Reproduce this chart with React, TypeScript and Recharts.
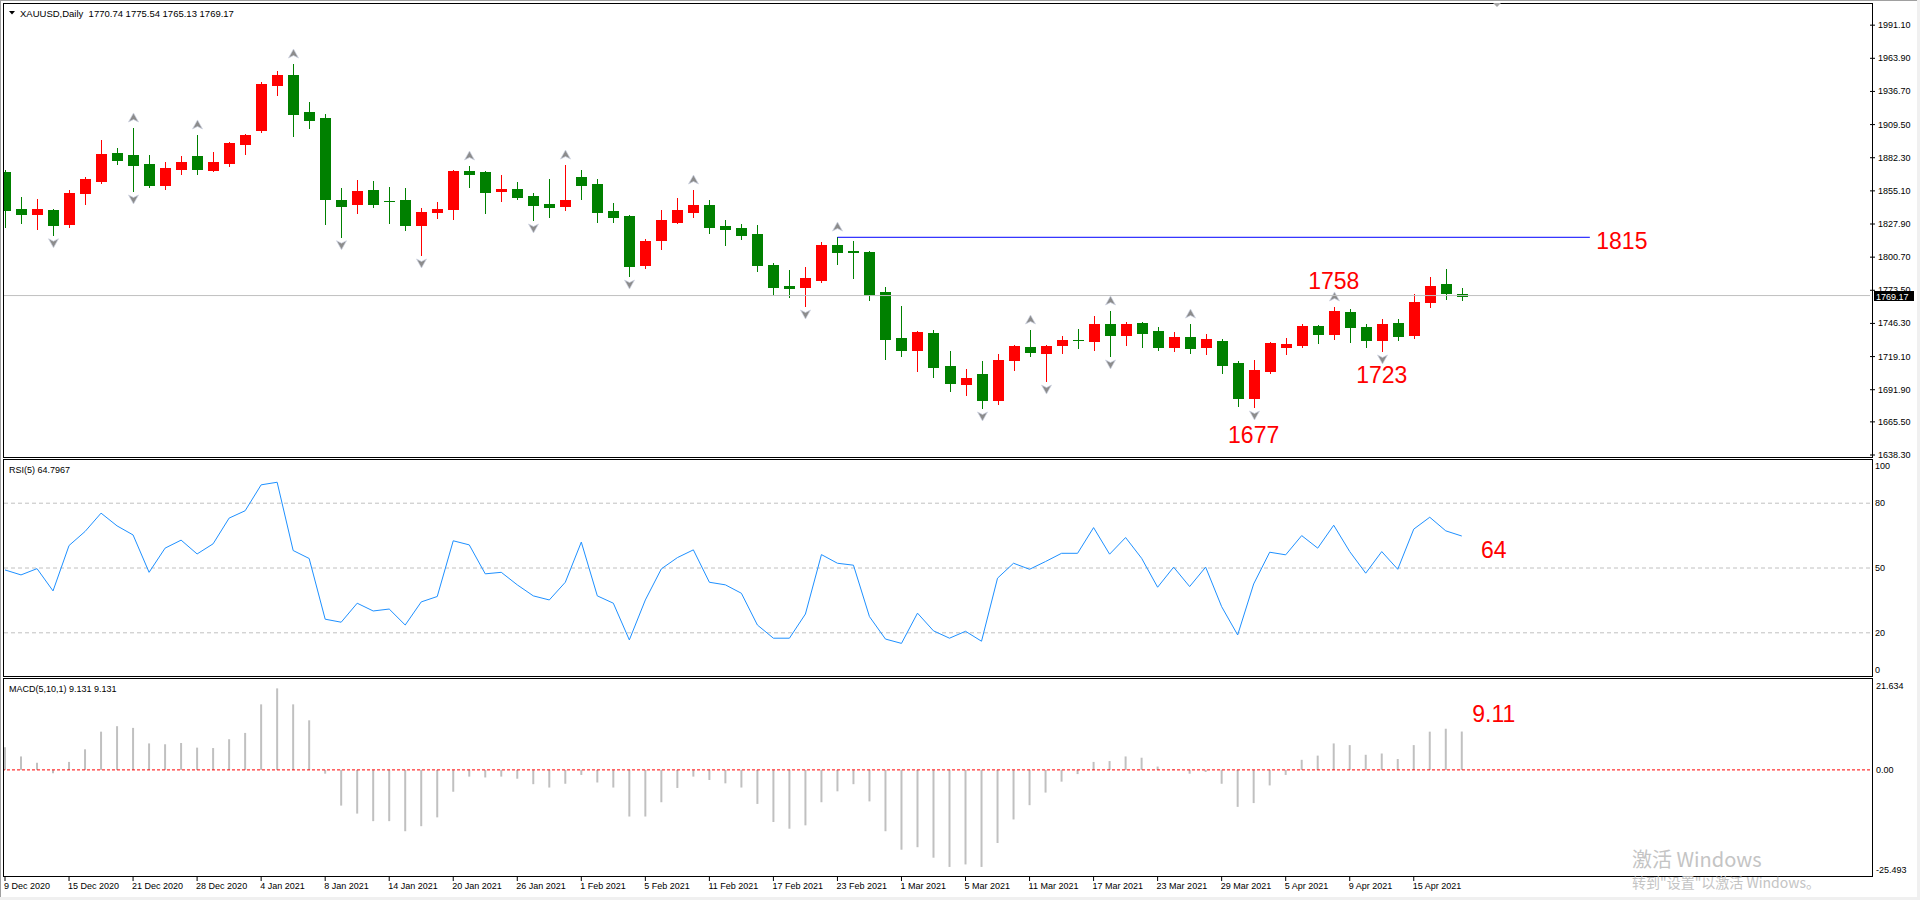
import React from "react";
import {
  ComposedChart, Bar, Line, XAxis, YAxis, ReferenceLine, ReferenceDot,
} from "recharts";

const FONT = "'Liberation Sans', Arial, sans-serif";
const RED = "#FF0000";
const GREEN = "#008000";

const DATES = [
  "9 Dec 2020", "10 Dec 2020", "11 Dec 2020", "14 Dec 2020", "15 Dec 2020", "16 Dec 2020", "17 Dec 2020", "18 Dec 2020",
  "21 Dec 2020", "22 Dec 2020", "23 Dec 2020", "24 Dec 2020", "28 Dec 2020", "29 Dec 2020", "30 Dec 2020", "31 Dec 2020",
  "4 Jan 2021", "5 Jan 2021", "6 Jan 2021", "7 Jan 2021", "8 Jan 2021", "11 Jan 2021", "12 Jan 2021", "13 Jan 2021",
  "14 Jan 2021", "15 Jan 2021", "18 Jan 2021", "19 Jan 2021", "20 Jan 2021", "21 Jan 2021", "22 Jan 2021", "25 Jan 2021",
  "26 Jan 2021", "27 Jan 2021", "28 Jan 2021", "29 Jan 2021", "1 Feb 2021", "2 Feb 2021", "3 Feb 2021", "4 Feb 2021",
  "5 Feb 2021", "8 Feb 2021", "9 Feb 2021", "10 Feb 2021", "11 Feb 2021", "12 Feb 2021", "15 Feb 2021", "16 Feb 2021",
  "17 Feb 2021", "18 Feb 2021", "19 Feb 2021", "22 Feb 2021", "23 Feb 2021", "24 Feb 2021", "25 Feb 2021", "26 Feb 2021",
  "1 Mar 2021", "2 Mar 2021", "3 Mar 2021", "4 Mar 2021", "5 Mar 2021", "8 Mar 2021", "9 Mar 2021", "10 Mar 2021",
  "11 Mar 2021", "12 Mar 2021", "15 Mar 2021", "16 Mar 2021", "17 Mar 2021", "18 Mar 2021", "19 Mar 2021", "22 Mar 2021",
  "23 Mar 2021", "24 Mar 2021", "25 Mar 2021", "26 Mar 2021", "29 Mar 2021", "30 Mar 2021", "31 Mar 2021", "1 Apr 2021",
  "5 Apr 2021", "6 Apr 2021", "7 Apr 2021", "8 Apr 2021", "9 Apr 2021", "12 Apr 2021", "13 Apr 2021", "14 Apr 2021",
  "15 Apr 2021", "16 Apr 2021", "19 Apr 2021", "20 Apr 2021",
];

const OPEN = [
  1870.6, 1840.2, 1836.4, 1839.4, 1828.1, 1853.3, 1863.2, 1886.2, 1884.5, 1877.1,
  1859.9, 1873.0, 1883.7, 1872.2, 1878.0, 1893.6, 1905.1, 1942.0, 1950.2, 1919.8,
  1914.9, 1847.6, 1844.3, 1855.8, 1847.0, 1847.6, 1827.3, 1837.8, 1840.2, 1871.4,
  1870.6, 1855.0, 1856.6, 1850.9, 1844.3, 1842.7, 1866.5, 1860.7, 1838.6, 1834.5,
  1794.3, 1814.8, 1829.5, 1837.8, 1843.5, 1826.3, 1824.6, 1819.7, 1794.3, 1777.0,
  1776.2, 1781.9, 1810.7, 1805.7, 1804.9, 1772.1, 1734.3, 1724.5, 1738.4, 1711.4,
  1696.6, 1704.8, 1683.5, 1716.3, 1727.0, 1722.0, 1728.6, 1733.0, 1731.9, 1745.8,
  1736.8, 1746.6, 1740.1, 1727.0, 1735.2, 1727.0, 1731.9, 1713.8, 1685.1, 1707.3,
  1727.0, 1728.6, 1744.2, 1737.6, 1755.7, 1743.4, 1732.7, 1746.6, 1736.8, 1763.9,
  1778.7, 1770.74,
];
const HIGH = [
  1872.2, 1850.1, 1848.4, 1840.0, 1855.8, 1866.7, 1896.8, 1890.3, 1906.7, 1884.5,
  1878.8, 1883.7, 1901.0, 1887.0, 1895.2, 1901.6, 1944.5, 1953.5, 1959.2, 1928.0,
  1918.2, 1857.4, 1864.0, 1863.2, 1858.3, 1857.4, 1841.0, 1846.0, 1872.2, 1875.5,
  1871.4, 1868.1, 1862.4, 1853.3, 1864.8, 1876.3, 1872.2, 1864.8, 1845.1, 1835.3,
  1815.6, 1839.4, 1849.2, 1855.8, 1847.6, 1831.2, 1827.9, 1827.1, 1795.9, 1790.1,
  1792.6, 1813.1, 1817.2, 1814.0, 1805.5, 1776.2, 1760.6, 1740.1, 1740.9, 1723.7,
  1708.9, 1715.5, 1721.2, 1728.5, 1740.9, 1728.6, 1736.0, 1741.7, 1752.4, 1756.5,
  1747.5, 1747.5, 1743.4, 1739.3, 1745.8, 1737.6, 1733.5, 1715.5, 1716.3, 1731.0,
  1734.3, 1745.8, 1745.0, 1759.8, 1758.1, 1745.8, 1749.9, 1749.9, 1770.4, 1784.4,
  1791.0, 1775.54,
];
const LOW = [
  1825.7, 1829.0, 1824.0, 1819.1, 1825.7, 1844.6, 1861.6, 1877.1, 1855.0, 1858.3,
  1856.6, 1868.9, 1868.9, 1871.4, 1875.5, 1885.4, 1903.4, 1933.8, 1900.1, 1906.7,
  1827.9, 1817.5, 1836.9, 1841.9, 1829.0, 1823.0, 1802.5, 1832.8, 1832.0, 1858.3,
  1836.9, 1846.8, 1848.4, 1831.2, 1833.6, 1839.4, 1848.4, 1829.5, 1829.5, 1785.2,
  1791.8, 1807.4, 1828.7, 1833.6, 1820.5, 1810.7, 1815.6, 1789.3, 1769.6, 1768.0,
  1760.6, 1780.3, 1795.1, 1783.6, 1765.5, 1717.1, 1719.6, 1707.3, 1702.3, 1690.8,
  1687.6, 1676.9, 1680.2, 1708.1, 1719.6, 1699.0, 1722.0, 1726.1, 1724.5, 1719.6,
  1728.6, 1727.0, 1724.5, 1723.7, 1722.0, 1721.2, 1705.6, 1678.5, 1677.7, 1705.6,
  1721.2, 1727.0, 1730.2, 1733.5, 1731.0, 1727.0, 1723.7, 1732.7, 1734.3, 1759.8,
  1766.4, 1765.13,
];
const CLOSE = [
  1839.4, 1836.4, 1840.2, 1827.3, 1853.3, 1864.8, 1885.4, 1880.4, 1876.3, 1859.9,
  1873.9, 1878.8, 1873.0, 1878.8, 1894.4, 1901.0, 1942.8, 1950.2, 1918.2, 1913.3,
  1848.4, 1842.7, 1855.0, 1844.3, 1846.6, 1827.3, 1837.8, 1840.2, 1871.4, 1868.9,
  1854.2, 1856.6, 1850.1, 1843.5, 1842.1, 1847.6, 1859.9, 1837.8, 1833.6, 1793.4,
  1814.0, 1831.2, 1839.4, 1843.5, 1825.4, 1823.8, 1818.9, 1794.3, 1776.2, 1775.4,
  1783.6, 1810.7, 1804.9, 1805.0, 1769.6, 1733.5, 1724.5, 1739.3, 1710.5, 1697.4,
  1701.5, 1683.5, 1716.3, 1727.8, 1722.8, 1727.8, 1732.7, 1732.5, 1745.8, 1736.8,
  1745.8, 1738.4, 1727.0, 1735.2, 1726.1, 1733.5, 1712.2, 1685.1, 1708.1, 1730.2,
  1729.4, 1744.2, 1737.6, 1756.5, 1743.4, 1732.7, 1745.8, 1736.0, 1763.9, 1777.0,
  1771.3, 1769.17,
];

const RSI = [
  49.1, 46.8, 49.7, 39.4, 60.4, 66.9, 75.4, 69.5, 65.3, 48.0,
  59.2, 62.9, 56.5, 61.2, 73.1, 76.5, 88.5, 89.7, 58.1, 54.4,
  26.3, 24.9, 33.7, 30.1, 31.0, 23.6, 34.3, 36.8, 62.6, 60.7,
  47.3, 48.0, 42.2, 37.1, 35.2, 43.4, 62.0, 37.1, 33.7, 16.7,
  35.2, 49.6, 54.8, 58.4, 43.4, 42.2, 38.3, 23.6, 17.5, 17.5,
  28.7, 56.2, 52.2, 51.3, 27.5, 17.1, 15.1, 29.1, 20.9, 17.5,
  20.7, 16.1, 45.3, 52.2, 49.4, 53.0, 56.8, 56.8, 68.7, 56.4,
  64.1, 54.5, 41.1, 50.4, 41.4, 50.4, 32.1, 19.0, 42.6, 57.3,
  56.1, 65.0, 59.2, 69.8, 57.6, 47.6, 57.6, 49.4, 68.0, 73.5,
  67.2, 64.7967,
];

const MACD = [
  5.4, 3.2, 1.7, -0.8, 1.9, 4.9, 9.1, 10.4, 10.0, 6.3,
  6.1, 6.4, 5.3, 5.2, 7.3, 8.8, 15.6, 19.4, 15.6, 11.8,
  -0.9, -8.5, -10.4, -12.2, -12.2, -14.6, -13.4, -11.3, -5.2, -1.6,
  -1.8, -1.6, -2.1, -3.4, -4.2, -3.3, -1.2, -3.0, -4.2, -11.1,
  -11.1, -7.7, -4.3, -1.6, -2.4, -3.2, -4.2, -8.1, -12.4, -14.0,
  -13.2, -7.7, -5.1, -3.4, -7.5, -14.6, -19.0, -18.4, -20.9, -23.1,
  -22.5, -23.1, -17.4, -11.8, -8.4, -5.4, -2.8, -1.0, 1.9, 2.1,
  3.2, 2.9, 0.8, 0.2, -0.9, -0.5, -3.3, -8.8, -7.9, -3.7,
  -1.2, 2.4, 3.4, 6.3, 5.9, 3.6, 3.9, 2.6, 5.9, 9.1,
  9.8, 9.131,
];

const FRACTAL_UP = [8, 12, 18, 29, 35, 43, 52, 64, 69, 74, 83];
const FRACTAL_DOWN = [3, 8, 21, 26, 33, 39, 50, 61, 65, 69, 78, 86];

const PRICE_TICKS = [1638.3, 1665.5, 1691.9, 1719.1, 1746.3, 1773.5, 1800.7, 1827.9, 1855.1, 1882.3, 1909.5, 1936.7, 1963.9, 1991.1];
const RSI_TICKS = [0, 20, 50, 80, 100];
const RSI_LEVELS = [20, 50, 80];
const MACD_TICKS = [-25.493, 0, 21.634];
const DATE_TICKS = DATES.filter((_, i) => i % 4 === 0);

const PAD_SLOTS = 25; // empty space right of the last bar (chart shift)
const RESIST = 1817;

const LAST_CLOSE = CLOSE[CLOSE.length - 1];
const LAST_RSI = RSI[RSI.length - 1];
const LAST_MACD = MACD[MACD.length - 1];

const rows: any[] = [
  ...DATES.map((date, i) => ({
    date,
    o: OPEN[i], h: HIGH[i], l: LOW[i], c: CLOSE[i],
    rsi: RSI[i], macd: MACD[i],
    up: FRACTAL_UP.includes(i), down: FRACTAL_DOWN.includes(i),
  })),
  ...Array.from({ length: PAD_SLOTS }, (_, k) => ({ date: `p${k}` })),
];

const CHART_W = 1923;
const AXIS_W = 50;

const candleRange = (d: any) => (d.h == null ? null : [d.l, d.h]);

const upArrow = (x: number, y: number) => `M${x},${y - 5} L${x + 5},${y + 4} L${x},${y + 1.5} L${x - 5},${y + 4} Z`;
const downArrow = (x: number, y: number) => `M${x},${y + 5} L${x + 5},${y - 4} L${x},${y - 1.5} L${x - 5},${y - 4} Z`;

const Candle = (props: any) => {
  const { x, y, width, height, payload } = props;
  if (!payload || payload.h == null || !isFinite(y) || !isFinite(height)) return <g />;
  const { o, h, l, c } = payload;
  const top = Math.min(y, y + height);
  const bottom = Math.max(y, y + height);
  const k = (bottom - top) / (h - l);
  const yOf = (v: number) => top + (h - v) * k;
  const cx = Math.round(x + width / 2 - 0.5);
  const color = c >= o ? RED : GREEN;
  const bTop = Math.round(yOf(Math.max(o, c)));
  const bBot = Math.round(yOf(Math.min(o, c)));
  return (
    <g>
      <line x1={cx + 0.5} x2={cx + 0.5} y1={Math.round(top)} y2={Math.round(bottom) + 1} stroke={color} shapeRendering="crispEdges" />
      <rect x={cx - 5} y={bTop} width={11} height={bBot - bTop + 1} fill={color} shapeRendering="crispEdges" />
      {payload.up && <path d={upArrow(cx + 0.5, top - 10)} fill="#8c8c8c" stroke="#cdd3e2" strokeWidth={0.7} />}
      {payload.down && <path d={downArrow(cx + 0.5, bottom + 8)} fill="#8c8c8c" stroke="#cdd3e2" strokeWidth={0.7} />}
    </g>
  );
};

const yTick = (fmt: (v: number) => string, h: number, pad: number) => (p: any) => {
  const y = Math.min(Math.max(p.y, pad), h - pad);
  return (
    <text x={p.x} y={y} dy={3} textAnchor="start" fontSize={9} fontFamily={FONT} fill="#000">
      {fmt(p.payload.value)}
    </text>
  );
};

const DateTick = (p: any) => (
  <text x={p.x - 1} y={p.y + 7.5} textAnchor="start" fontSize={9} fontFamily={FONT} fill="#000">
    {p.payload.value}
  </text>
);

const PriceTag = (props: any) => {
  const vb = props.viewBox;
  if (!vb) return null;
  const x = vb.x + vb.width + 4;
  const y = Math.round(vb.y);
  return (
    <g>
      <rect x={x} y={y - 5} width={40} height={10} fill="#000" />
      <text x={x + 2} y={y + 3.5} fontSize={9} fontFamily={FONT} fill="#fff">{LAST_CLOSE.toFixed(2)}</text>
    </g>
  );
};

const note = (text: string) => (p: any) => (
  <text x={p.cx} y={p.cy} dy={8} textAnchor="middle" fontSize={23} fontFamily={FONT} fill={RED}>
    {text}
  </text>
);

const PRICE_H = 453;
const PRICE_SPILL = 8; // room under the pane so the lowest price label is not clipped
const RSI_H = 216;
const MACD_H = 198;

export default function App() {
  return (
    <div style={{ position: "absolute", left: 0, top: 0, width: 1920, height: 900, overflow: "hidden", background: "#fff", fontFamily: FONT }}>
      {/* price pane */}
      <div style={{ position: "absolute", left: -3, top: 4 }}>
        <ComposedChart width={CHART_W} height={PRICE_H + PRICE_SPILL} data={rows} margin={{ top: 0, right: 0, bottom: PRICE_SPILL, left: 0 }}>
          <XAxis dataKey="date" hide scale="band" />
          <YAxis
            orientation="right" width={AXIS_W} type="number" domain={[1636.67, 2008.47]} allowDataOverflow
            ticks={PRICE_TICKS} interval={0} axisLine={false} tickLine={{ stroke: "#000" }} tickSize={5} tickMargin={3}
            tick={yTick((v) => v.toFixed(2), 10000, -10000)}
          />
          <ReferenceLine y={LAST_CLOSE} stroke="#C0C0C0" label={PriceTag} />
          <ReferenceLine segment={[{ x: DATES[52], y: RESIST }, { x: "p7", y: RESIST }]} stroke="#0000FF" />
          <Bar dataKey={candleRange} barSize={11} shape={Candle} isAnimationActive={false} />
          <ReferenceDot x="p9" y={1814} r={0} shape={note("1815")} />
          <ReferenceDot x={DATES[83]} y={1781} r={0} shape={note("1758")} />
          <ReferenceDot x={DATES[86]} y={1704} r={0} shape={note("1723")} />
          <ReferenceDot x={DATES[78]} y={1655} r={0} shape={note("1677")} />
        </ComposedChart>
      </div>

      {/* RSI pane */}
      <div style={{ position: "absolute", left: -3, top: 460 }}>
        <ComposedChart width={CHART_W} height={RSI_H} data={rows} margin={{ top: 0, right: 0, bottom: 0, left: 0 }}>
          <XAxis dataKey="date" hide scale="band" />
          <YAxis
            orientation="right" width={AXIS_W} type="number" domain={[0, 100]} allowDataOverflow
            ticks={RSI_TICKS} interval={0} axisLine={false} tickLine={false} tickSize={0} tickMargin={5}
            tick={yTick((v) => String(v), RSI_H, 6)}
          />
          {RSI_LEVELS.map((v) => (
            <ReferenceLine key={v} y={v} stroke="#C0C0C0" strokeDasharray="4 3" />
          ))}
          <Line dataKey="rsi" stroke="#1E90FF" strokeWidth={1} dot={false} activeDot={false} isAnimationActive={false} />
          <ReferenceDot x="p1" y={58.4} r={0} shape={note("64")} />
        </ComposedChart>
      </div>

      {/* MACD pane */}
      <div style={{ position: "absolute", left: -3, top: 679 }}>
        <ComposedChart width={CHART_W} height={MACD_H + 20} data={rows} margin={{ top: 0, right: 0, bottom: 0, left: 0 }}>
          <XAxis
            dataKey="date" scale="band" height={20} ticks={DATE_TICKS} interval={0}
            axisLine={false} tickLine={{ stroke: "#000" }} tickSize={4} tickMargin={0} tick={DateTick}
          />
          <YAxis
            orientation="right" width={AXIS_W} type="number" domain={[-25.493, 21.634]} allowDataOverflow
            ticks={MACD_TICKS} interval={0} axisLine={false} tickLine={false} tickSize={0} tickMargin={6}
            tick={yTick((v) => (v === 0 ? "0.00" : v.toFixed(3)), MACD_H, 7)}
          />
          <Bar dataKey="macd" barSize={2} fill="#C0C0C0" isAnimationActive={false} />
          <ReferenceLine y={0} stroke="#FF0000" strokeDasharray="3 2" />
          <ReferenceDot x="p1" y={13.2} r={0} shape={note("9.11")} />
        </ComposedChart>
      </div>

      {/* window frame, pane borders and captions */}
      <svg width={1920} height={900} style={{ position: "absolute", left: 0, top: 0, pointerEvents: "none" }}>
        <rect x={0} y={0} width={3} height={900} fill="#fff" />
        <g fill="none" stroke="#000" shapeRendering="crispEdges">
          <rect x={3.5} y={3.5} width={1869} height={454} />
          <rect x={3.5} y={459.5} width={1869} height={217} />
          <rect x={3.5} y={678.5} width={1869} height={198} />
        </g>
        <line x1={0} y1={0.5} x2={1920} y2={0.5} stroke="#a0a0a0" shapeRendering="crispEdges" />
        <line x1={0.5} y1={0} x2={0.5} y2={900} stroke="#a0a0a0" shapeRendering="crispEdges" />
        <rect x={1917} y={0} width={3} height={900} fill="#f0f0f0" />
        <rect x={0} y={897} width={1920} height={3} fill="#f0f0f0" />
        <polygon points="1493,3 1501,3 1497,7" fill="#a8a8a8" />

        <polygon points="9,11 15,11 12,14.5" fill="#000" />
        <text x={20} y={16.5} fontSize={9.5} fontFamily={FONT} fill="#000" style={{ whiteSpace: "pre" }}>
          {`XAUUSD,Daily  ${OPEN[91].toFixed(2)} ${HIGH[91].toFixed(2)} ${LOW[91].toFixed(2)} ${LAST_CLOSE.toFixed(2)}`}
        </text>
        <text x={9} y={472.5} fontSize={9} fontFamily={FONT} fill="#000">{`RSI(5) ${LAST_RSI.toFixed(4)}`}</text>
        <text x={9} y={691.5} fontSize={9} fontFamily={FONT} fill="#000">{`MACD(5,10,1) ${LAST_MACD.toFixed(3)} ${LAST_MACD.toFixed(3)}`}</text>

        <text x={1632} y={867} fontSize={20} fontFamily="'Noto Sans CJK SC', sans-serif" fill="#c4c4c4">激活 Windows</text>
        <text x={1632} y={888} fontSize={14} fontFamily="'Noto Sans CJK SC', sans-serif" fill="#c4c4c4">转到"设置"以激活 Windows。</text>
      </svg>
    </div>
  );
}
